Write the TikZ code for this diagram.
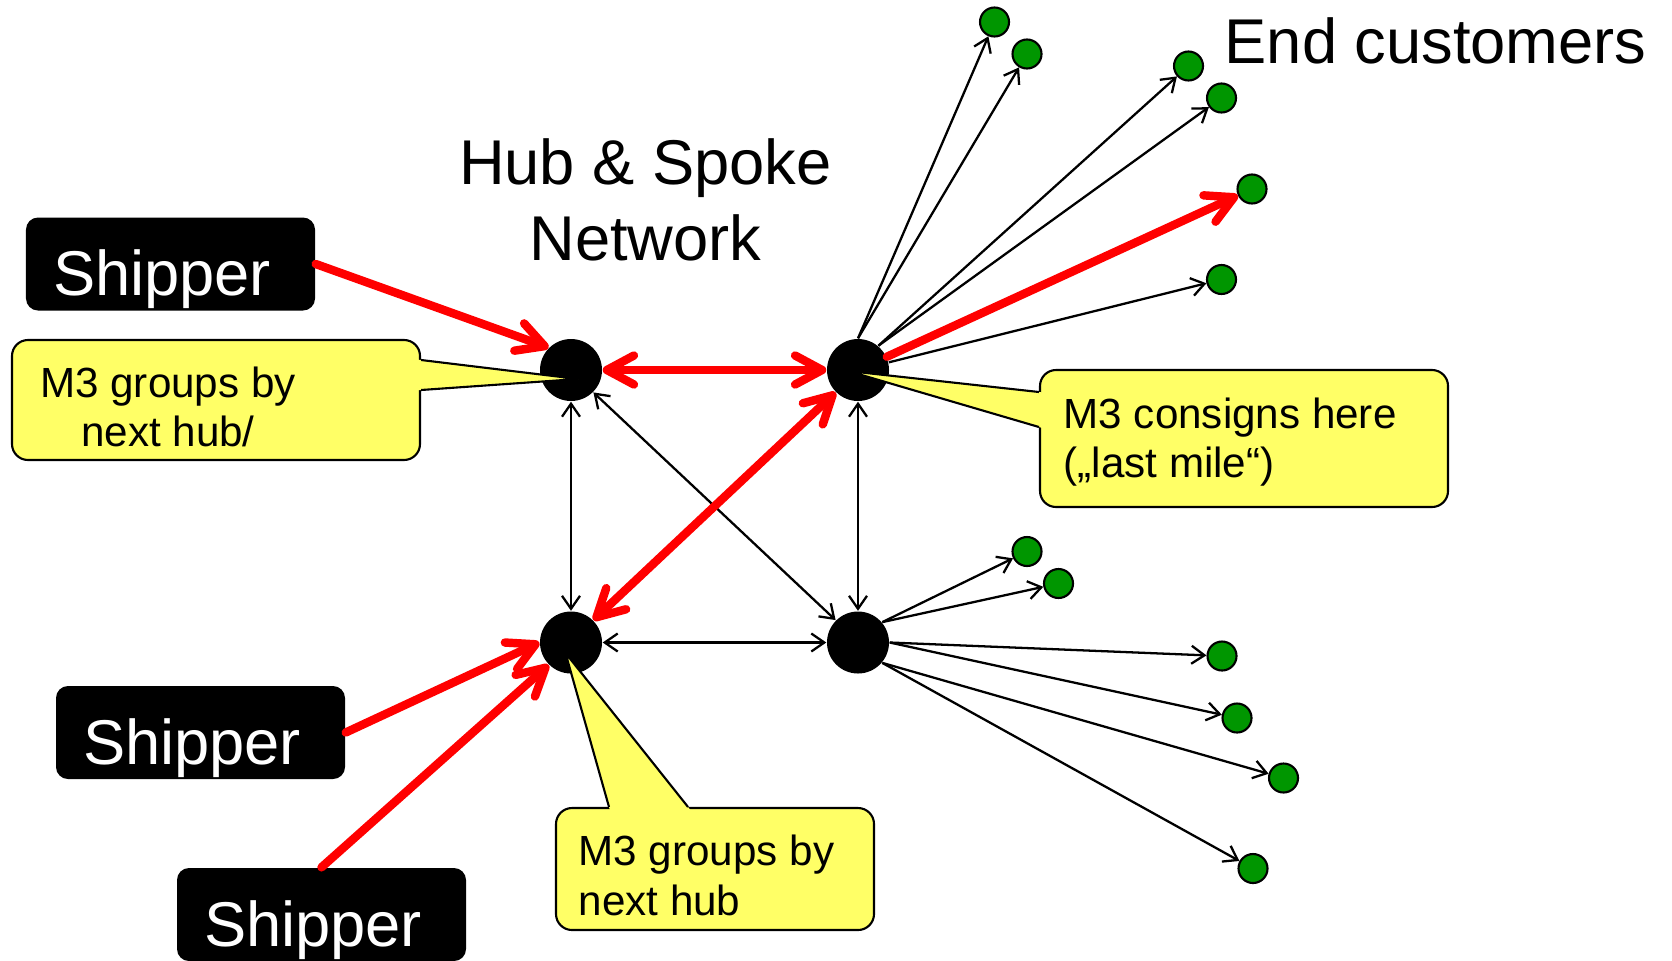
\documentclass[tikz,border=0pt]{standalone}
\usepackage{fontspec}
\setmainfont{Liberation Sans}
\usetikzlibrary{arrows.meta,calc}
\definecolor{callyellow}{RGB}{255,255,102}
\definecolor{custgreen}{RGB}{0,150,0}
\newcommand{\bigtext}{\fontsize{18}{21.6}\selectfont}
\newcommand{\smalltext}{\fontsize{12}{14}\selectfont}

\begin{document}
\begin{tikzpicture}[
    hub/.style={circle,fill=black,minimum size=0.62cm,inner sep=0pt},
    cust/.style={circle,draw=black,line width=0.6pt,fill=custgreen,%
                 minimum size=0.29cm,inner sep=0pt},
    shipper/.style={fill=black,text=white,rounded corners=0.12cm,%
                    minimum width=2.89cm,minimum height=0.93cm,%
                    text width=2.35cm,align=left,inner xsep=0.27cm,inner ysep=0pt,%
                    text height=0.73cm,text depth=0.1cm,font=\bigtext},
    callbox/.style={draw=black,line width=0.6pt,fill=callyellow,%
                    rounded corners=0.16cm,inner sep=0pt},
    calltext/.style={inner sep=0pt,font=\smalltext},
    calledge/.style={draw=black,line width=0.6pt},
    spoke/.style={draw=black,line width=0.65pt,%
                  >={Straight Barb[length=0.13cm,width=0.18cm]}},
    lane/.style={draw=red,line width=2.4pt,line cap=round,%
                 >={Straight Barb[length=0.27cm,width=0.29cm,round]}}
]
\useasboundingbox (0,0) rectangle (16.72,9.6);

% hubs
\node[hub] (A) at (5.71,5.90) {};
\node[hub] (B) at (8.58,5.90) {};
\node[hub] (C) at (5.71,3.175) {};
\node[hub] (D) at (8.58,3.175) {};

% end customers
\node[cust] (g1) at (9.945,9.38) {};
\node[cust] (g2) at (10.27,9.06) {};
\node[cust] (g3) at (11.885,8.94) {};
\node[cust] (g4) at (12.215,8.62) {};
\node[cust] (g5) at (12.52,7.71) {};
\node[cust] (g6) at (12.215,6.805) {};
\node[cust] (g7) at (10.27,4.085) {};
\node[cust] (g8) at (10.585,3.765) {};
\node[cust] (g9) at (12.22,3.04) {};
\node[cust] (g10) at (12.37,2.42) {};
\node[cust] (g11) at (12.835,1.82) {};
\node[cust] (g12) at (12.53,0.915) {};

% shippers
\node[shipper] (S1) at (1.705,6.96) {Shipper};
\node[shipper] (S2) at (2.005,2.275) {Shipper};
\node[shipper] (S3) at (3.215,0.455) {Shipper};

\node[inner sep=0pt,align=center,font=\bigtext] (title) at (6.455,7.60) {Hub \& Spoke\\Network};
\node[inner sep=0pt,anchor=base west,font=\bigtext] (endcust) at (12.24,8.97) {End customers};

% hub links
\draw[spoke,<->] (A.south) -- (C.north);
\draw[spoke,<->] (B.south) -- (D.north);
\draw[spoke,<->] (C.east) -- (D.west);
\draw[spoke,<->] (A.-45) -- (D.135);

% last mile
\draw[spoke,->] (B.north) -- (g1);
\draw[spoke,->] (B.north) -- (g2);
\draw[spoke,->] (B.50) -- (g3);
\draw[spoke,->] (B.50) -- (g4);
\draw[spoke,->] (B) -- (g6);
\draw[spoke,->] (D.40) -- (g7);
\draw[spoke,->] (D.40) -- (g8);
\draw[spoke,->] (D.east) -- (g9);
\draw[spoke,->] (D.east) -- (g10);
\draw[spoke,->] (D.-40) -- (g11);
\draw[spoke,->] (D.-40) -- (g12);

% the shipment's way
\draw[lane,->] (S1.east) -- (A.135);
\draw[lane,->] (S2.east) -- (C.west);
\draw[lane,->] (S3.north) -- (C.-135);
\draw[lane,<->] (A.east) -- (B.west);
\draw[lane,<->] (C.45) -- (B.-135);
\draw[lane,->] (B) -- (g5);

% callouts
\node[callbox,minimum width=4.08cm,minimum height=1.20cm] (callA) at (2.16,5.60) {};
\node[callbox,minimum width=4.08cm,minimum height=1.37cm] (callB) at (12.44,5.215) {};
\node[callbox,minimum width=3.18cm,minimum height=1.22cm] (callC) at (7.15,0.91) {};

\coordinate (tipA) at ([shift={(0.07,-0.09)}]A.center);
\coordinate (baseA1) at ([yshift=0.40cm]callA.east);
\coordinate (baseA2) at ([yshift=0.10cm]callA.east);
\fill[callyellow] ($(tipA)!1.04!(baseA1)$) -- (tipA) -- ($(tipA)!1.04!(baseA2)$) -- cycle;
\draw[calledge] (baseA1) -- (tipA) -- (baseA2);

\coordinate (tipB) at ([shift={(-0.10,-0.01)}]B.center);
\coordinate (baseB1) at ([yshift=0.465cm]callB.west);
\coordinate (baseB2) at ([yshift=0.115cm]callB.west);
\fill[callyellow] ($(tipB)!1.04!(baseB1)$) -- (tipB) -- ($(tipB)!1.04!(baseB2)$) -- cycle;
\draw[calledge] (baseB1) -- (tipB) -- (baseB2);

\coordinate (tipC) at ([shift={(-0.055,-0.105)}]C.center);
\coordinate (baseC1) at ([xshift=-1.06cm]callC.north);
\coordinate (baseC2) at ([xshift=-0.27cm]callC.north);
\fill[callyellow] ($(tipC)!1.04!(baseC1)$) -- (tipC) -- ($(tipC)!1.04!(baseC2)$) -- cycle;
\draw[calledge] (baseC1) -- (tipC) -- (baseC2);

\node[calltext,align=center] (callAtext) at ([shift={(-0.48,-0.07)}]callA.center) {M3 groups by\\next hub/};
\node[calltext,align=left,anchor=west] (callBtext) at ([shift={(0.24,-0.035)}]callB.west) {M3 consigns here\\(„last mile“)};
\node[calltext,align=left,anchor=west] (callCtext) at ([shift={(0.23,-0.065)}]callC.west) {M3 groups by\\next hub};
\end{tikzpicture}
\end{document}
